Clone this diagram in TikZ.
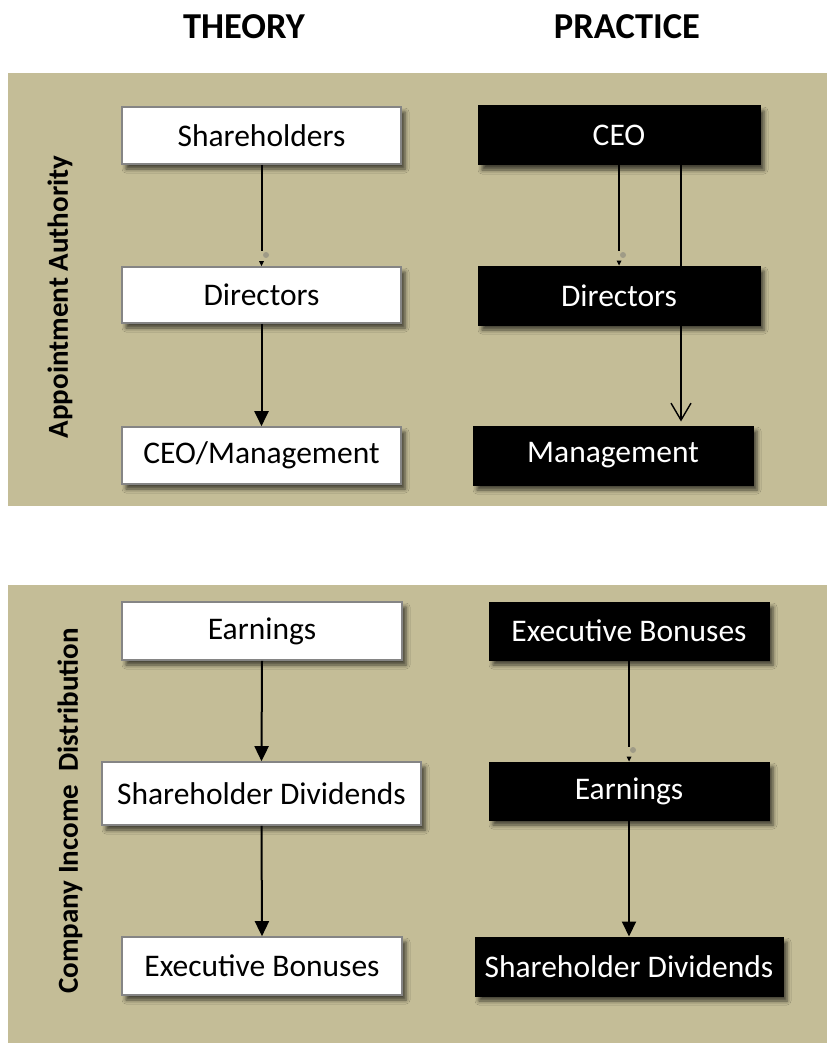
\documentclass[tikz,border=0pt]{standalone}
\usepackage{fontspec}
\setmainfont{Carlito}
\usetikzlibrary{arrows.meta,shadows.blur}
\definecolor{panel}{HTML}{C4BD97}
\definecolor{edge}{HTML}{858585}
\begin{document}
\begin{tikzpicture}[x=1pt,y=-1pt,
  base/.style={rectangle, inner sep=0pt, font=\fontsize{31.5}{36}\selectfont,
    blur shadow={shadow xshift=4pt, shadow yshift=-5pt, shadow blur radius=4pt, shadow opacity=65}},
  wbox/.style={base, fill=white, draw=edge, line width=1.6pt, text=black},
  bbox/.style={base, fill=black, draw=black, line width=1pt, text=white},
  title/.style={font=\fontsize{36.5}{40}\selectfont\bfseries},
  side/.style={rotate=90, font=\fontsize{29}{32}\selectfont\bfseries},
  link/.style={line width=2pt},
  head/.style={link, -{Triangle[length=15pt,width=14pt]}},
  barb/.style={line width=1.4pt, -{Straight Barb[length=17pt,width=20pt,line width=1.4pt]}},
  stub/.style={link, shorten >=15pt},
  smudge/.style={fill=black!55, opacity=.45}
]
% page and panels
\fill[white] (0,0) rectangle (827,1043);
\useasboundingbox (0,0) rectangle (827,1043);
\fill[panel] (8,73) rectangle (827,506);
\fill[panel] (8,585) rectangle (827,1043);

% column headings and side labels
\node[title] (theory) at (244,27) {THEORY};
\node[title] (practice) at (627,27) {PRACTICE};
\node[side] (appt) at (60,297) {Appointment Authority};
\node[side] (income) at (70,811) {Company Income\ \ Distribution};

% appointment authority, theory
\node[wbox, minimum width=279pt, minimum height=57pt] (sh) at (261.5,135.5) {Shareholders};
\node[wbox, minimum width=279pt, minimum height=56pt] (dir) at (261.5,295) {Directors};
\node[wbox, minimum width=279pt, minimum height=57pt] (ceom) at (261.5,455.5) {CEO/Management};
\draw[stub] (sh.south) -- (dir.north);
\fill (dir.north) -- ++(-2.5,-5) -- ++(5,0) -- cycle;
\fill[smudge] (266,255) circle (3);
\draw[head] (dir.south) -- (ceom.north);

% appointment authority, practice
\node[bbox, minimum width=282pt, minimum height=59pt] (ceo) at (619,135.5) {CEO};
\node[bbox, minimum width=280pt, minimum height=59pt] (mgmt) at (613,455.5) {Management};
\draw[barb, shorten >=4pt] ([xshift=62pt,yshift=10pt]ceo.south) -- ([xshift=68pt]mgmt.north);
\node[bbox, minimum width=282pt, minimum height=59pt] (pdir) at (619,295.5) {Directors};
\draw[stub] (ceo.south) -- (pdir.north);
\fill (pdir.north) -- ++(-2.5,-5) -- ++(5,0) -- cycle;
\fill[smudge] (623,255) circle (3);

% income distribution, theory
\node[wbox, minimum width=280pt, minimum height=58pt] (earn) at (262,631) {Earnings};
\node[wbox, minimum width=319pt, minimum height=63pt] (sdiv) at (261.5,793.5) {Shareholder Dividends};
\node[wbox, minimum width=280pt, minimum height=58pt] (ebon) at (262,966) {Executive Bonuses};
\draw[head] (earn.south) -- (sdiv.north);
\draw[head] (sdiv.south) -- (ebon.north);

% income distribution, practice
\node[bbox, minimum width=280pt, minimum height=58pt] (pebon) at (629,631) {Executive Bonuses};
\node[bbox, minimum width=280pt, minimum height=58pt] (pearn) at (629,791) {Earnings};
\node[bbox, minimum width=308pt, minimum height=59pt] (psdiv) at (629,966.5) {Shareholder Dividends};
\draw[stub] (pebon.south) -- (pearn.north);
\fill (pearn.north) -- ++(-2.5,-5) -- ++(5,0) -- cycle;
\fill[smudge] (633,750) circle (3);
\draw[head] (pearn.south) -- (psdiv.north);
\end{tikzpicture}
\end{document}
